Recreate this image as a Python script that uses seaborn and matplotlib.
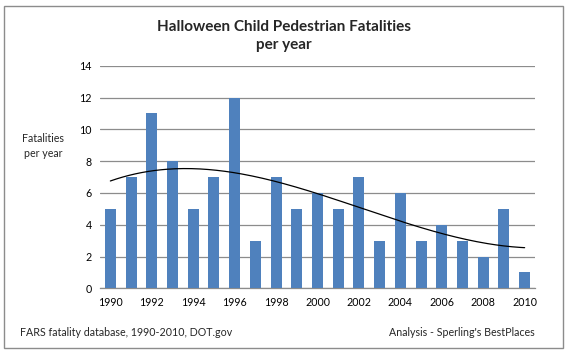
import numpy as np
import pandas as pd
import matplotlib
matplotlib.use("Agg")
import matplotlib.pyplot as plt
import seaborn as sns
from matplotlib.patches import Rectangle

years = list(range(1990, 2011))
fatalities = [5, 7, 11, 8, 5, 7, 12, 3, 7, 5, 6, 5, 7, 3, 6, 3, 4, 3, 2, 5, 1]
yticks = [0, 2, 4, 6, 8, 10, 12, 14]

title = "Halloween Child Pedestrian Fatalities\nper year"
ylabel = "Fatalities\nper year"
source_left = "FARS fatality database, 1990-2010, DOT.gov"
source_right = "Analysis - Sperling's BestPlaces"

sns.set_theme(style="white")
plt.rcParams['font.family'] = ['Lato', 'DejaVu Sans']

df = pd.DataFrame({"year": [str(y) for y in years], "val": fatalities})

fig = plt.figure(figsize=(5.68, 3.54), dpi=100)
ax = fig.add_axes([100/568, 1 - 288.3/354, 435/568, (288.3 - 65.7)/354])

sns.barplot(data=df, x="year", y="val", color="#4F81BD", saturation=1,
            width=0.53, ax=ax, zorder=3, edgecolor="none")

# polynomial trend line (order 3) fit to the data
idx = np.arange(len(years))
coef = np.polyfit(idx, fatalities, 3)
xs = np.linspace(0, len(years) - 1, 200)
ax.plot(xs, np.polyval(coef, xs), color="black", lw=0.9, zorder=4)

ax.set_ylim(0, 14)
ax.set_xlim(-0.5, len(years) - 0.5)
ax.set_yticks(yticks)
ax.set_yticklabels([str(t) for t in yticks])
ax.set_xticks(idx[::2])
ax.set_xticklabels([str(y) for y in years[::2]])
ax.tick_params(axis="both", length=0, labelsize=7.7, colors="#000000")
ax.tick_params(axis="y", pad=6)
ax.tick_params(axis="x", pad=6)
ax.grid(axis="y", color="#8C8C8C", lw=0.9, zorder=0)
ax.set_axisbelow(True)
for s in ["left", "right", "top"]:
    ax.spines[s].set_visible(False)
ax.spines["bottom"].set_color("#8C8C8C")
ax.spines["bottom"].set_linewidth(0.9)
ax.set_xlabel("")
ax.set_ylabel("")

fig.text(284/568, 1 - 36/354, title, ha="center", va="center",
         fontsize=11, fontweight="bold", linespacing=1.45)
fig.text(43/568, 1 - 146/354, ylabel, ha="center", va="center",
         fontsize=7.7, linespacing=1.5)
fig.text(20/568, 1 - 332/354, source_left, ha="left", va="center", fontsize=7.7)
fig.text(535/568, 1 - 332/354, source_right, ha="right", va="center", fontsize=7.7)

fig.patches.append(Rectangle((4/568, 1 - 348/354), 559/568, 342/354,
                             transform=fig.transFigure, fill=False,
                             edgecolor="#8C8C8C", lw=1.0))

fig.savefig("out.png", dpi=100, facecolor="white")
